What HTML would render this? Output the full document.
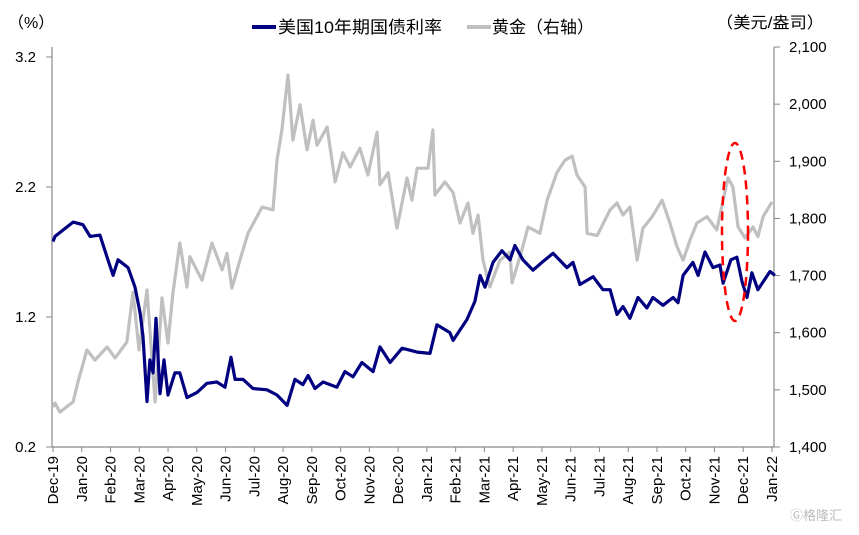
<!DOCTYPE html>
<html><head><meta charset="utf-8"><style>
body{margin:0;background:#fff;}
svg text{font-family:"Liberation Sans","Noto Sans CJK SC",sans-serif;}
</style></head><body>
<svg id="chart" width="859" height="530" xmlns="http://www.w3.org/2000/svg">
<g id="axes"></g>
<g id="series"></g>
<ellipse cx="735" cy="232" rx="13" ry="89" fill="none" stroke="#ff0000" stroke-width="2.5" stroke-dasharray="9,6"/>
<text x="8" y="28" font-size="16">（%）</text>
<text x="716" y="28" font-size="16" textLength="108" lengthAdjust="spacingAndGlyphs">（美元/盎司）</text>
<g>
<line x1="252" y1="27" x2="276" y2="27" stroke="#000080" stroke-width="4"/>
<text x="278" y="33" font-size="17" textLength="164" lengthAdjust="spacingAndGlyphs">美国10年期国债利率</text>
<line x1="467" y1="27" x2="491" y2="27" stroke="#c0c0c0" stroke-width="4"/>
<text x="492" y="33" font-size="17" textLength="102" lengthAdjust="spacingAndGlyphs">黄金（右轴）</text>
</g>
<text x="790" y="520" font-size="13" fill="#bbb">Ⓖ格隆汇</text>
</svg>
<script>
const monthLabels=["Dec-19","Jan-20","Feb-20","Mar-20","Apr-20","May-20","Jun-20","Jul-20","Aug-20","Sep-20","Oct-20","Nov-20","Dec-20","Jan-21","Feb-21","Mar-21","Apr-21","May-21","Jun-21","Jul-21","Aug-21","Sep-21","Oct-21","Nov-21","Dec-21","Jan-22"];
const leftTicks=[0.2,1.2,2.2,3.2];
const rightTicks=[1400,1500,1600,1700,1800,1900,2000,2100];
const yieldT=[0,0.07,0.70,1.04,1.29,1.63,1.88,2.09,2.26,2.61,2.85,3.03,3.13,3.27,3.37,3.48,3.58,3.72,3.86,4.0,4.24,4.41,4.66,5.01,5.35,5.70,5.98,6.19,6.33,6.61,6.95,7.44,7.79,8.14,8.41,8.69,8.87,9.11,9.39,9.87,10.15,10.43,10.74,11.13,11.37,11.72,12.14,12.66,13.11,13.35,13.80,13.91,14.39,14.67,14.85,15.02,15.30,15.61,15.89,16.06,16.34,16.69,17.0,17.39,17.87,18.08,18.32,18.78,19.12,19.37,19.61,19.82,20.06,20.34,20.65,20.86,21.21,21.56,21.73,21.91,22.25,22.43,22.67,22.95,23.19,23.30,23.57,23.78,23.96,24.13,24.30,24.51,24.93,25.10];
const yieldV=[1.78,1.82,1.93,1.91,1.82,1.83,1.66,1.52,1.64,1.58,1.43,1.23,1.05,0.55,0.87,0.77,1.19,0.61,0.87,0.6,0.77,0.77,0.58,0.62,0.69,0.70,0.66,0.89,0.72,0.72,0.65,0.64,0.60,0.52,0.72,0.68,0.75,0.65,0.70,0.66,0.78,0.74,0.85,0.78,0.97,0.85,0.96,0.93,0.92,1.14,1.08,1.02,1.18,1.32,1.52,1.43,1.62,1.71,1.64,1.75,1.64,1.56,1.62,1.69,1.58,1.62,1.45,1.51,1.41,1.41,1.22,1.28,1.19,1.35,1.27,1.35,1.29,1.35,1.31,1.52,1.62,1.52,1.70,1.58,1.60,1.46,1.64,1.66,1.47,1.35,1.54,1.41,1.55,1.52];
const goldT=[0,0.07,0.24,0.70,0.87,1.18,1.46,1.88,2.16,2.57,2.78,2.99,3.27,3.55,3.79,4.0,4.17,4.41,4.66,4.76,5.18,5.53,5.88,6.05,6.22,6.50,6.78,7.27,7.65,7.79,7.96,8.17,8.34,8.59,8.83,9.04,9.18,9.53,9.81,10.08,10.33,10.67,10.95,11.27,11.37,11.65,11.96,12.31,12.48,12.66,13.04,13.21,13.28,13.63,13.91,14.15,14.43,14.60,14.78,14.95,15.19,15.54,15.89,15.96,16.24,16.52,16.93,17.18,17.52,17.80,18.05,18.22,18.50,18.57,18.92,19.37,19.61,19.82,20.06,20.31,20.51,20.83,21.18,21.45,21.70,21.91,22.15,22.39,22.74,23.08,23.30,23.47,23.64,23.82,24.06,24.34,24.51,24.69,25.0];
const goldV=[1470,1477,1461,1479,1514,1570,1552,1575,1556,1584,1671,1570,1675,1479,1661,1582,1669,1757,1680,1733,1692,1757,1710,1739,1678,1727,1774,1820,1815,1902,1955,2051,1937,1999,1920,1972,1928,1960,1864,1915,1890,1923,1876,1951,1859,1880,1783,1871,1832,1888,1888,1955,1841,1864,1845,1792,1827,1774,1806,1727,1680,1727,1741,1687,1734,1785,1774,1832,1880,1902,1909,1876,1855,1774,1770,1815,1827,1806,1820,1727,1783,1803,1832,1792,1750,1727,1762,1792,1803,1780,1832,1871,1855,1785,1766,1785,1768,1803,1829];

const NS="http://www.w3.org/2000/svg";
const X0=53,X1=772,YB=447;
const xS=t=>X0+t*(X1-X0)/(monthLabels.length-1);
const yL=v=>YB-(v-0.2)*130;
const yR=g=>YB-(g-1400)*0.5714;
function mk(tag,attrs,parent){const e=document.createElementNS(NS,tag);for(const k in attrs)e.setAttribute(k,attrs[k]);parent.appendChild(e);return e;}
const axes=document.getElementById('axes'),series=document.getElementById('series');
let e;
e=mk('line',{x1:52,y1:47,x2:52,y2:YB,stroke:'#888','stroke-width':1.2},axes);


e=mk('line',{x1:774,y1:47,x2:774,y2:YB,stroke:'#888','stroke-width':1.2},axes);


e=mk('line',{x1:52,y1:YB,x2:774,y2:YB,stroke:'#888','stroke-width':1.2},axes);


leftTicks.forEach(v=>{
  mk('line',{x1:46,y1:yL(v),x2:52,y2:yL(v),stroke:'#888'},axes);
  e=mk('text',{x:36,y:yL(v)+5,'font-size':15,'text-anchor':'end'},axes);
  e.textContent=v.toFixed(1);
  
  
});
rightTicks.forEach(g=>{
  mk('line',{x1:774,y1:yR(g),x2:780,y2:yR(g),stroke:'#888'},axes);
  e=mk('text',{x:789,y:yR(g)+5,'font-size':15},axes);
  e.textContent=g.toLocaleString('en-US');
  
  
});
monthLabels.forEach((m,i)=>{
  const x=xS(i);
  mk('line',{x1:x,y1:YB,x2:x,y2:YB+5,stroke:'#888'},axes);
  e=mk('text',{x:0,y:0,'font-size':15,'text-anchor':'end',transform:`translate(${x+5},456) rotate(-90)`},axes);
  e.textContent=m;
  
  
});
function path(T,V,yf,color,name){
  const d=T.map((t,i)=>(i?'L':'M')+xS(t).toFixed(1)+','+yf(V[i]).toFixed(1)).join('');
  const p=mk('path',{d:d,fill:'none',stroke:color,'stroke-width':3.2,'stroke-linejoin':'round'},series);
  
  
}
path(goldT,goldV,yR,'#c0c0c0','gold-line');
path(yieldT,yieldV,yL,'#000080','us10y-yield-line');
</script>
</body></html>
